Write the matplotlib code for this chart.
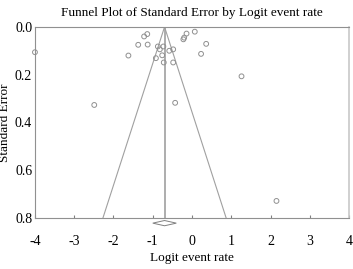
import matplotlib
matplotlib.use('Agg')
import matplotlib.pyplot as plt
import numpy as np

# study estimates (logit event rate) and standard errors
logit_rate = [-4.0, -1.62, -1.37, -1.22, -1.14, -1.13, -0.87, -0.82, -0.73, -0.76,
              -0.92, -0.72, -0.58, -0.48, -0.48, -0.43, -0.22, -0.20, -0.14, 0.07,
              0.23, 0.36, 1.26, -2.49, 2.15]
std_err = [0.106, 0.120, 0.075, 0.040, 0.030, 0.074, 0.082, 0.094, 0.082, 0.119,
           0.131, 0.149, 0.100, 0.094, 0.149, 0.318, 0.052, 0.045, 0.028, 0.020,
           0.113, 0.071, 0.207, 0.327, 0.729]

pooled = -0.70
pooled_lo = -1.00
pooled_hi = -0.40

plt.rcParams['font.family'] = ['Liberation Serif', 'DejaVu Serif']
plt.rcParams['axes.unicode_minus'] = False

fig = plt.figure(figsize=(3.53, 2.69), dpi=100)
ax = fig.add_axes([0.099, 0.19, 0.89, 0.71])

gray = '#a0a0a0'
se_max = 0.8
ax.plot([pooled - 1.96 * se_max, pooled, pooled + 1.96 * se_max], [se_max, 0, se_max],
        color=gray, lw=0.8)
ax.plot([pooled, pooled], [0, se_max], color=gray, lw=1.2)

ax.scatter(logit_rate, std_err, s=12, facecolors='none', edgecolors='#909090',
           linewidths=0.7, clip_on=False, zorder=3)

# pooled estimate diamond below the axis
dy = 0.011
ax.fill([pooled_lo, pooled, pooled_hi, pooled],
        [0.822, 0.822 - dy, 0.822, 0.822 + dy],
        facecolor='white', edgecolor='#808080', lw=0.7, clip_on=False, zorder=3)

ax.set_xlim(-4, 4)
ax.set_ylim(0.8, 0)
ax.set_xticks(range(-4, 5))
ax.set_yticks([0.0, 0.2, 0.4, 0.6, 0.8])
ax.set_yticklabels(['0.0', '0.2', '0.4', '0.6', '0.8'])
ax.tick_params(axis='x', direction='in', length=2, color='#808080', pad=12, labelsize=10)
ax.tick_params(axis='y', length=0, pad=2, labelsize=10)

for side in ['top', 'bottom', 'left']:
    ax.spines[side].set_color('#909090')
    ax.spines[side].set_linewidth(0.8)
ax.spines['right'].set_color('#c8c8c8')
ax.spines['right'].set_linewidth(1.2)

ax.set_title('Funnel Plot of Standard Error by Logit event rate', fontsize=9.5, pad=8)
ax.set_xlabel('Logit event rate', fontsize=9.5, labelpad=3)
ax.set_ylabel('Standard Error', fontsize=9.5, labelpad=3)

fig.savefig('out.png', dpi=100)
